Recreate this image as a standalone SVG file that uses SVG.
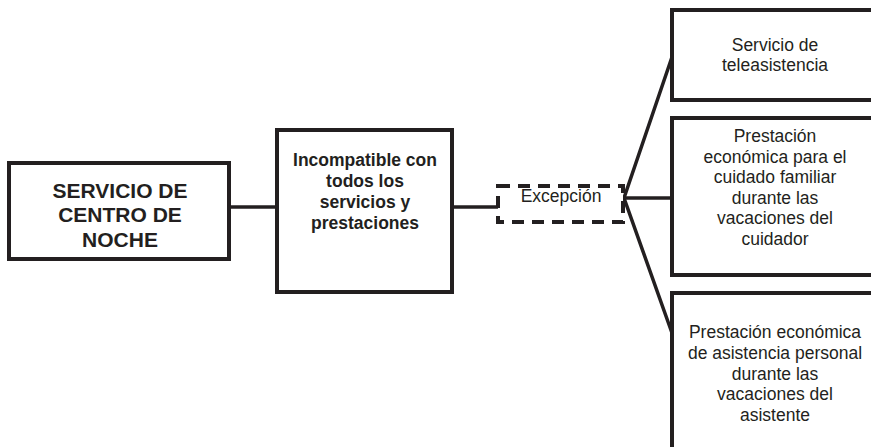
<svg xmlns="http://www.w3.org/2000/svg" width="871" height="447" viewBox="0 0 871 447">
<style>
.box{fill:#fff;stroke:#231f20;stroke-width:4}
.dash{fill:#fff;stroke:#231f20;stroke-width:4;stroke-dasharray:12 8}
.ln{fill:none;stroke:#231f20;stroke-width:3.5}
text{font-family:"Liberation Sans",Arial,sans-serif;fill:#231f20;text-anchor:middle}
.b1{font-size:21px;font-weight:bold}
.b2{font-size:17.5px;font-weight:bold}
.r{font-size:17.5px}
</style>
<rect width="871" height="447" fill="#fff"/>
<g id="connectors">
<line class="ln" x1="229" y1="207" x2="277" y2="207"/>
<line class="ln" x1="452" y1="207" x2="498" y2="207"/>
<polyline class="ln" points="672,57 624,198 672,333"/>
<line class="ln" x1="624" y1="198" x2="672" y2="198"/>
</g>
<g id="node-noche">
<rect class="box" x="9" y="163" width="220" height="96"/>
<text class="b1" x="120" y="197.5">SERVICIO DE</text>
<text class="b1" x="120" y="222">CENTRO DE</text>
<text class="b1" x="120" y="246.5">NOCHE</text>
</g>
<g id="node-incompatible">
<rect class="box" x="277" y="130" width="175" height="162"/>
<text class="b2" x="365" y="166">Incompatible con</text>
<text class="b2" x="365" y="187">todos los</text>
<text class="b2" x="365" y="208">servicios y</text>
<text class="b2" x="365" y="229">prestaciones</text>
</g>
<g id="node-excepcion">
<rect class="dash" x="498" y="186" width="125" height="36"/>
<text class="r" x="561" y="201.5">Excepción</text>
</g>
<g id="node-teleasistencia">
<rect class="box" x="672" y="10" width="205" height="90"/>
<text class="r" x="775" y="51">Servicio de</text>
<text class="r" x="775" y="71">teleasistencia</text>
</g>
<g id="node-cuidado">
<rect class="box" x="672" y="118" width="205" height="157"/>
<text class="r" x="775" y="142">Prestación</text>
<text class="r" x="775" y="162.5">económica para el</text>
<text class="r" x="775" y="183">cuidado familiar</text>
<text class="r" x="775" y="203.5">durante las</text>
<text class="r" x="775" y="224">vacaciones del</text>
<text class="r" x="775" y="244.5">cuidador</text>
</g>
<g id="node-asistencia">
<rect class="box" x="672" y="293" width="205" height="170"/>
<text class="r" x="775" y="338">Prestación económica</text>
<text class="r" x="775" y="359">de asistencia personal</text>
<text class="r" x="775" y="380">durante las</text>
<text class="r" x="775" y="400">vacaciones del</text>
<text class="r" x="775" y="421">asistente</text>
</g>
</svg>
